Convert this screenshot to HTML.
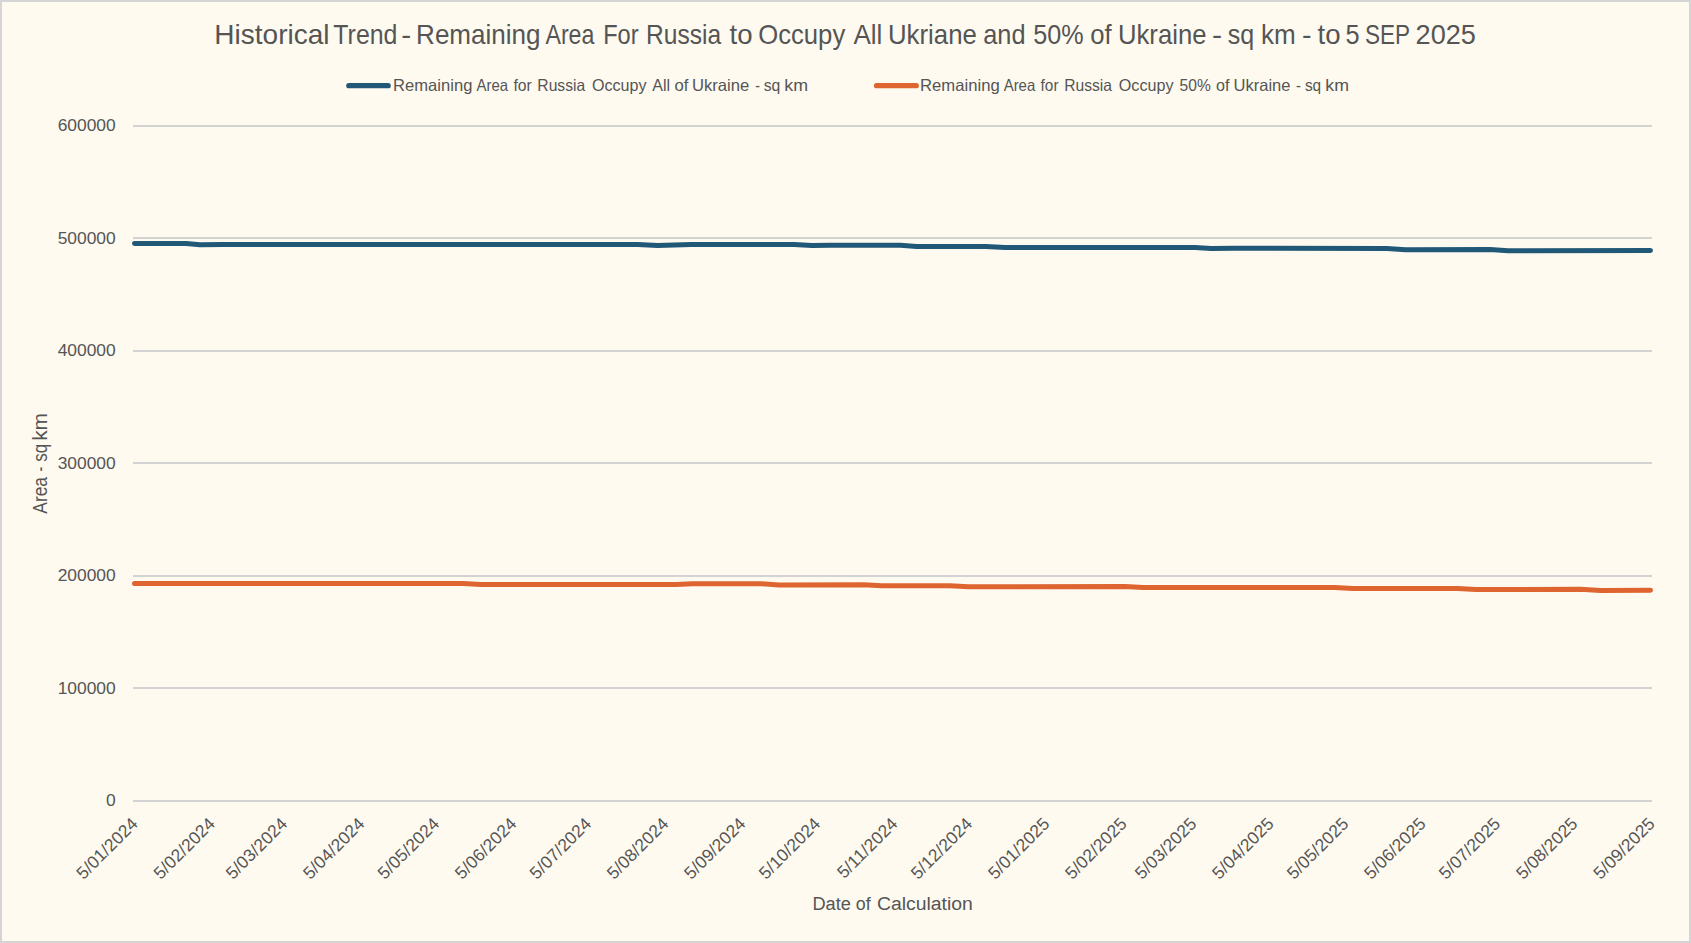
<!DOCTYPE html>
<html lang="en">
<head>
<meta charset="utf-8">
<title>Historical Trend - Remaining Area For Russia to Occupy</title>
<style>
html,body{margin:0;padding:0;background:#FEFAF0;}
body{width:1691px;height:943px;overflow:hidden;}
svg{display:block;font-family:"Liberation Sans", sans-serif;fill:#555555;}
.grid line{stroke:#D3D3D3;stroke-width:2;}
.tick text{font-size:17.4px;}
.series{fill:none;stroke-width:5;stroke-linecap:round;stroke-linejoin:round;}
</style>
</head>
<body>
<svg width="1691" height="943" viewBox="0 0 1691 943">
<rect x="0" y="0" width="1691" height="943" fill="#FEFAF0"/>
<rect x="1" y="1" width="1689" height="941" fill="none" stroke="#D5D5D5" stroke-width="2"/>
<text y="44.3" font-size="27.2"><tspan x="214.34" textLength="115.23" lengthAdjust="spacingAndGlyphs">Historical</tspan> <tspan x="333.30" textLength="64.13" lengthAdjust="spacingAndGlyphs">Trend</tspan> <tspan x="401.20" textLength="9.96" lengthAdjust="spacingAndGlyphs">-</tspan> <tspan x="416.08" textLength="124.49" lengthAdjust="spacingAndGlyphs">Remaining</tspan> <tspan x="545.40" textLength="49.05" lengthAdjust="spacingAndGlyphs">Area</tspan> <tspan x="603.16" textLength="35.38" lengthAdjust="spacingAndGlyphs">For</tspan> <tspan x="646.09" textLength="75.11" lengthAdjust="spacingAndGlyphs">Russia</tspan> <tspan x="729.50" textLength="23.04" lengthAdjust="spacingAndGlyphs">to</tspan> <tspan x="758.26" textLength="86.96" lengthAdjust="spacingAndGlyphs">Occupy</tspan> <tspan x="853.40" textLength="29.00" lengthAdjust="spacingAndGlyphs">All</tspan> <tspan x="888.00" textLength="88.86" lengthAdjust="spacingAndGlyphs">Ukriane</tspan> <tspan x="983.27" textLength="42.28" lengthAdjust="spacingAndGlyphs">and</tspan> <tspan x="1033.17" textLength="50.39" lengthAdjust="spacingAndGlyphs">50%</tspan> <tspan x="1090.26" textLength="21.42" lengthAdjust="spacingAndGlyphs">of</tspan> <tspan x="1118.01" textLength="88.45" lengthAdjust="spacingAndGlyphs">Ukraine</tspan> <tspan x="1212.09" textLength="10.09" lengthAdjust="spacingAndGlyphs">-</tspan> <tspan x="1227.80" textLength="26.43" lengthAdjust="spacingAndGlyphs">sq</tspan> <tspan x="1261.04" textLength="34.74" lengthAdjust="spacingAndGlyphs">km</tspan> <tspan x="1301.94" textLength="9.57" lengthAdjust="spacingAndGlyphs">-</tspan> <tspan x="1317.60" textLength="23.04" lengthAdjust="spacingAndGlyphs">to</tspan> <tspan x="1345.47" textLength="14.07" lengthAdjust="spacingAndGlyphs">5</tspan> <tspan x="1365.08" textLength="44.65" lengthAdjust="spacingAndGlyphs">SEP</tspan> <tspan x="1415.60" textLength="60.31" lengthAdjust="spacingAndGlyphs">2025</tspan></text>
<line x1="348.8" y1="85.7" x2="388.2" y2="85.7" stroke="#215878" stroke-width="5.2" stroke-linecap="round"/>
<text y="90.5" font-size="16.5"><tspan x="393.09" textLength="79.28" lengthAdjust="spacingAndGlyphs">Remaining</tspan> <tspan x="476.50" textLength="31.55" lengthAdjust="spacingAndGlyphs">Area</tspan> <tspan x="513.40" textLength="18.32" lengthAdjust="spacingAndGlyphs">for</tspan> <tspan x="537.35" textLength="47.87" lengthAdjust="spacingAndGlyphs">Russia</tspan> <tspan x="592.00" textLength="54.57" lengthAdjust="spacingAndGlyphs">Occupy</tspan> <tspan x="652.30" textLength="17.85" lengthAdjust="spacingAndGlyphs">All</tspan> <tspan x="674.60" textLength="13.88" lengthAdjust="spacingAndGlyphs">of</tspan> <tspan x="691.99" textLength="57.29" lengthAdjust="spacingAndGlyphs">Ukraine</tspan> <tspan x="755.30" textLength="4.73" lengthAdjust="spacingAndGlyphs">-</tspan> <tspan x="763.70" textLength="16.67" lengthAdjust="spacingAndGlyphs">sq</tspan> <tspan x="784.22" textLength="23.79" lengthAdjust="spacingAndGlyphs">km</tspan></text>
<line x1="876.5" y1="85.7" x2="916.3" y2="85.7" stroke="#DE6530" stroke-width="5.2" stroke-linecap="round"/>
<text y="90.5" font-size="16.5"><tspan x="920.09" textLength="79.59" lengthAdjust="spacingAndGlyphs">Remaining</tspan> <tspan x="1003.70" textLength="31.55" lengthAdjust="spacingAndGlyphs">Area</tspan> <tspan x="1040.60" textLength="17.93" lengthAdjust="spacingAndGlyphs">for</tspan> <tspan x="1064.25" textLength="47.77" lengthAdjust="spacingAndGlyphs">Russia</tspan> <tspan x="1118.80" textLength="54.67" lengthAdjust="spacingAndGlyphs">Occupy</tspan> <tspan x="1179.60" textLength="31.19" lengthAdjust="spacingAndGlyphs">50%</tspan> <tspan x="1216.00" textLength="13.40" lengthAdjust="spacingAndGlyphs">of</tspan> <tspan x="1233.50" textLength="56.98" lengthAdjust="spacingAndGlyphs">Ukraine</tspan> <tspan x="1296.10" textLength="4.95" lengthAdjust="spacingAndGlyphs">-</tspan> <tspan x="1304.90" textLength="16.26" lengthAdjust="spacingAndGlyphs">sq</tspan> <tspan x="1325.32" textLength="23.68" lengthAdjust="spacingAndGlyphs">km</tspan></text>
<g class="grid">
<line x1="133.0" y1="801" x2="1652.0" y2="801"/>
<line x1="133.0" y1="688" x2="1652.0" y2="688"/>
<line x1="133.0" y1="576" x2="1652.0" y2="576"/>
<line x1="133.0" y1="463" x2="1652.0" y2="463"/>
<line x1="133.0" y1="351" x2="1652.0" y2="351"/>
<line x1="133.0" y1="238" x2="1652.0" y2="238"/>
<line x1="133.0" y1="126" x2="1652.0" y2="126"/>
</g>
<g class="tick">
<text x="115.7" y="806.30" text-anchor="end">0</text>
<text x="115.7" y="694.30" text-anchor="end">100000</text>
<text x="115.7" y="581.30" text-anchor="end">200000</text>
<text x="115.7" y="469.30" text-anchor="end">300000</text>
<text x="115.7" y="356.30" text-anchor="end">400000</text>
<text x="115.7" y="244.30" text-anchor="end">500000</text>
<text x="115.7" y="131.30" text-anchor="end">600000</text>
</g>
<g class="tick">
<text transform="translate(139.00,824.7) rotate(-45)" text-anchor="end" letter-spacing="0.13">5/01/2024</text>
<text transform="translate(216.22,824.7) rotate(-45)" text-anchor="end" letter-spacing="0.13">5/02/2024</text>
<text transform="translate(288.46,824.7) rotate(-45)" text-anchor="end" letter-spacing="0.13">5/03/2024</text>
<text transform="translate(365.68,824.7) rotate(-45)" text-anchor="end" letter-spacing="0.13">5/04/2024</text>
<text transform="translate(440.41,824.7) rotate(-45)" text-anchor="end" letter-spacing="0.13">5/05/2024</text>
<text transform="translate(517.63,824.7) rotate(-45)" text-anchor="end" letter-spacing="0.13">5/06/2024</text>
<text transform="translate(592.36,824.7) rotate(-45)" text-anchor="end" letter-spacing="0.13">5/07/2024</text>
<text transform="translate(669.58,824.7) rotate(-45)" text-anchor="end" letter-spacing="0.13">5/08/2024</text>
<text transform="translate(746.80,824.7) rotate(-45)" text-anchor="end" letter-spacing="0.13">5/09/2024</text>
<text transform="translate(821.53,824.7) rotate(-45)" text-anchor="end" letter-spacing="0.13">5/10/2024</text>
<text transform="translate(898.75,824.7) rotate(-45)" text-anchor="end" letter-spacing="0.13">5/11/2024</text>
<text transform="translate(973.47,824.7) rotate(-45)" text-anchor="end" letter-spacing="0.13">5/12/2024</text>
<text transform="translate(1050.69,824.7) rotate(-45)" text-anchor="end" letter-spacing="0.13">5/01/2025</text>
<text transform="translate(1127.91,824.7) rotate(-45)" text-anchor="end" letter-spacing="0.13">5/02/2025</text>
<text transform="translate(1197.66,824.7) rotate(-45)" text-anchor="end" letter-spacing="0.13">5/03/2025</text>
<text transform="translate(1274.88,824.7) rotate(-45)" text-anchor="end" letter-spacing="0.13">5/04/2025</text>
<text transform="translate(1349.61,824.7) rotate(-45)" text-anchor="end" letter-spacing="0.13">5/05/2025</text>
<text transform="translate(1426.83,824.7) rotate(-45)" text-anchor="end" letter-spacing="0.13">5/06/2025</text>
<text transform="translate(1501.56,824.7) rotate(-45)" text-anchor="end" letter-spacing="0.13">5/07/2025</text>
<text transform="translate(1578.78,824.7) rotate(-45)" text-anchor="end" letter-spacing="0.13">5/08/2025</text>
<text transform="translate(1656.00,824.7) rotate(-45)" text-anchor="end" letter-spacing="0.13">5/09/2025</text>
</g>
<polyline class="series" stroke="#215878" points="134.5,243.6 186.0,243.5 200.0,244.8 222.0,244.4 638.0,244.4 657.5,245.4 691.0,244.4 794.0,244.4 812.0,245.5 830.0,245.3 900.6,245.3 916.6,246.5 985.8,246.4 1005.0,247.6 1025.0,247.4 1195.0,247.4 1211.0,248.5 1235.0,248.3 1387.0,248.4 1405.4,249.7 1490.0,249.4 1508.0,250.7 1650.5,250.6"/>
<polyline class="series" stroke="#DE6530" points="134.5,583.4 463.0,583.4 481.0,584.5 676.0,584.5 692.5,583.8 761.0,583.8 779.0,584.9 863.6,584.7 881.7,585.8 950.0,585.7 968.0,586.7 1125.0,586.5 1143.0,587.5 1334.5,587.4 1353.0,588.5 1457.8,588.4 1476.0,589.5 1580.5,589.3 1600.6,590.4 1650.5,590.3"/>
<text y="909.8" font-size="19.2"><tspan x="812.45" textLength="38.38" lengthAdjust="spacingAndGlyphs">Date</tspan> <tspan x="855.80" textLength="14.88" lengthAdjust="spacingAndGlyphs">of</tspan> <tspan x="876.90" textLength="95.98" lengthAdjust="spacingAndGlyphs">Calculation</tspan></text>
<g transform="translate(47.1,514.2) rotate(-90)"><text y="0" font-size="19.8"><tspan x="0.50" textLength="36.70" lengthAdjust="spacingAndGlyphs">Area</tspan> <tspan x="42.70" textLength="4.72" lengthAdjust="spacingAndGlyphs">-</tspan> <tspan x="52.50" textLength="17.96" lengthAdjust="spacingAndGlyphs">sq</tspan> <tspan x="73.35" textLength="27.76" lengthAdjust="spacingAndGlyphs">km</tspan></text></g>
</svg>
</body>
</html>
